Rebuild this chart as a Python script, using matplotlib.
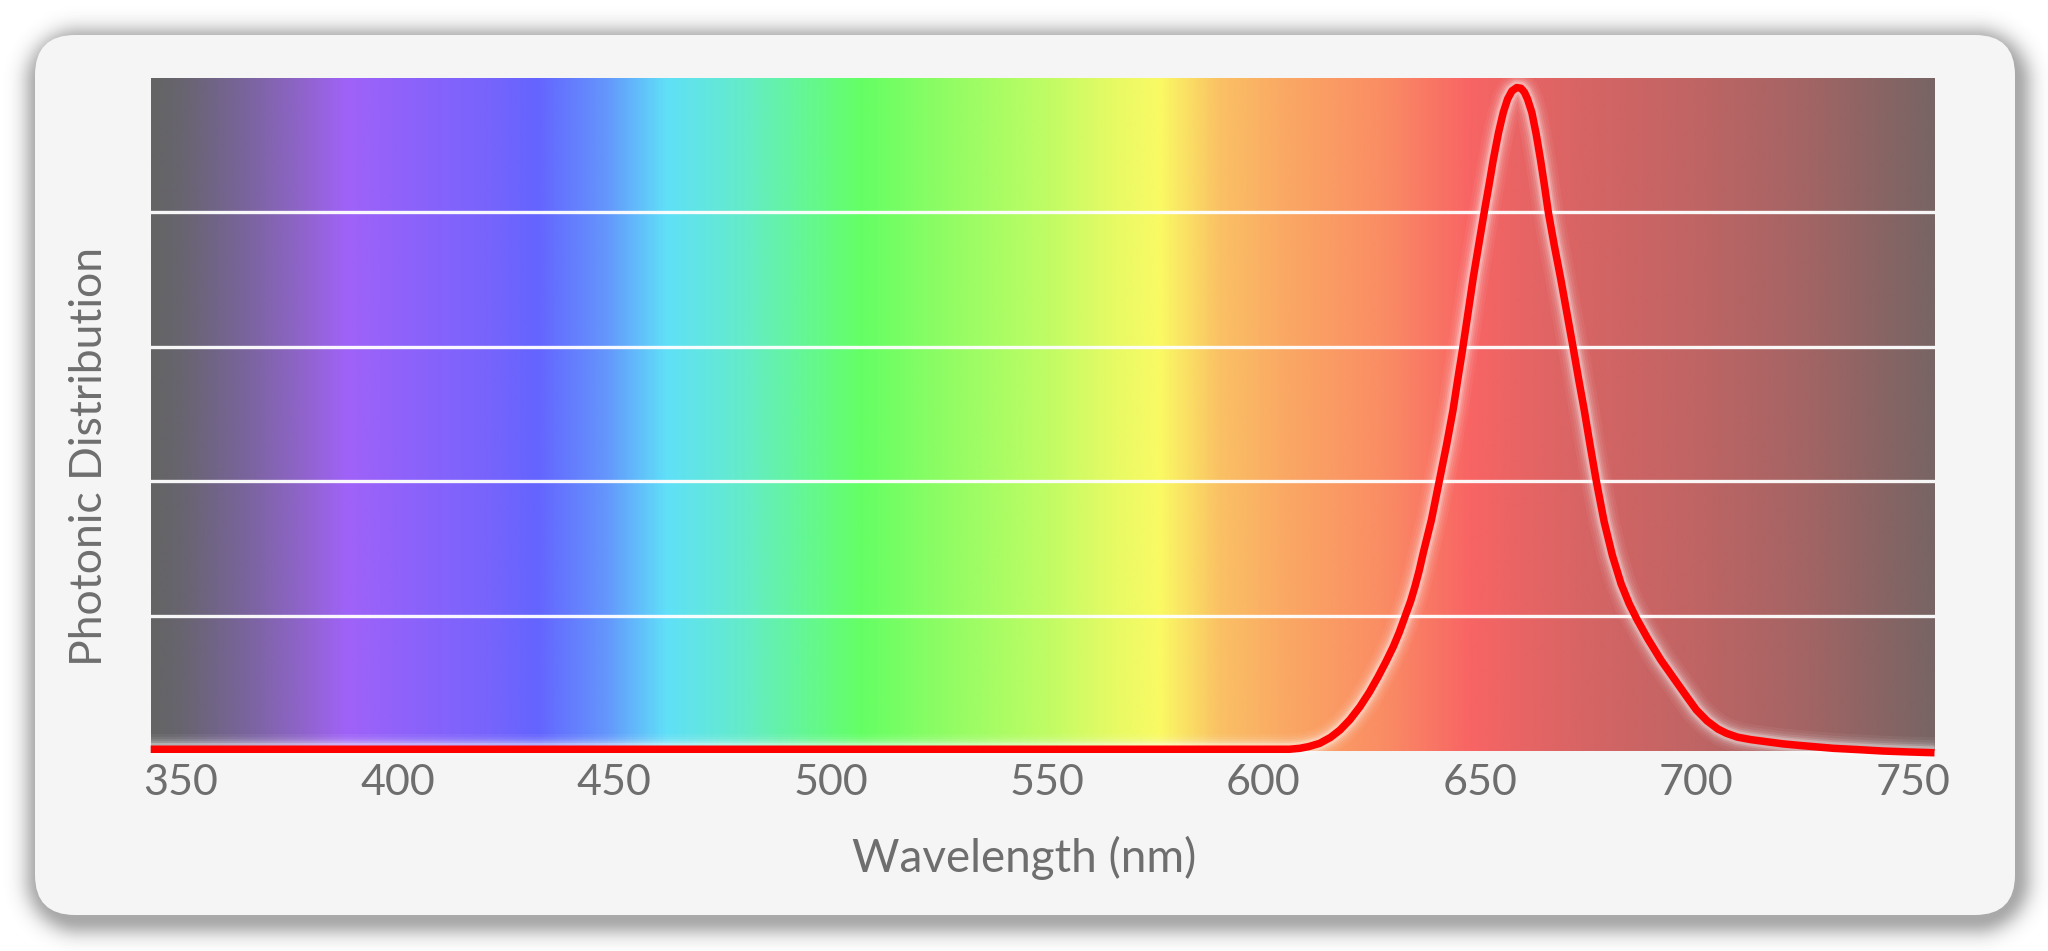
import numpy as np
import matplotlib
matplotlib.use("Agg")
import matplotlib.pyplot as plt
from matplotlib.patches import FancyBboxPatch
from matplotlib.colors import LinearSegmentedColormap, to_rgb
import matplotlib.patheffects as pe

# ---------------- data ----------------
wavelength_nm = [343.0, 400.0, 500.0, 600.0, 606.0, 608.4, 610.5, 613.0, 615.5, 617.7,
                 620.0, 622.3, 624.5, 626.5, 628.3, 630.0, 631.4, 632.7, 634.0, 635.0,
                 636.0, 636.9, 638.8, 640.6, 642.3, 643.8, 645.0, 646.0, 647.3, 648.5,
                 649.8, 651.0, 652.1, 653.1, 654.3, 655.4, 656.4, 657.4, 658.5, 659.5,
                 660.3, 661.0, 662.0, 663.0, 664.0, 664.9, 665.8, 667.2, 668.7, 670.1,
                 671.5, 672.8, 674.1, 675.5, 676.9, 678.7, 680.6, 682.6, 684.5, 686.2,
                 688.8, 691.8, 695.6, 697.8, 700.0, 702.5, 705.0, 707.0, 709.5, 712.5,
                 716.2, 720.0, 724.0, 728.0, 731.6, 737.0, 743.0, 749.0, 755.0]
intensity = [0.010, 0.010, 0.010, 0.010, 0.010, 0.017, 0.030, 0.054, 0.098, 0.153,
             0.230, 0.326, 0.435, 0.549, 0.660, 0.772, 0.880, 0.995, 1.110, 1.218,
             1.340, 1.466, 1.713, 2.000, 2.270, 2.530, 2.780, 2.980, 3.260, 3.520,
             3.770, 4.000, 4.200, 4.390, 4.590, 4.740, 4.840, 4.900, 4.925, 4.920,
             4.890, 4.840, 4.740, 4.580, 4.390, 4.200, 4.000, 3.750, 3.500, 3.250,
             3.000, 2.760, 2.530, 2.260, 2.000, 1.700, 1.450, 1.240, 1.090, 0.980,
             0.830, 0.673, 0.500, 0.400, 0.302, 0.220, 0.160, 0.128, 0.100, 0.082,
             0.066, 0.050, 0.038, 0.027, 0.017, 0.008, -0.003, -0.010, -0.016]

tick_values = [350, 400, 450, 500, 550, 600, 650, 700, 750]
tick_labels = ["350", "400", "450", "500", "550", "600", "650", "700", "750"]
grid_levels = [1, 2, 3, 4]

# background spectrum colour stops (wavelength nm, colour)
spectrum_nm = [343, 350, 365, 378, 388, 400, 420, 432, 448, 462, 480, 495, 507, 530,
               550, 566, 576, 590, 605, 628, 648, 660, 675, 700, 725, 742, 755]
spectrum_col = ["#646464", "#686470", "#7a649e", "#9064cc", "#a062f8", "#9062fa",
                "#7864fc", "#6464ff", "#6496fc", "#60e0f8", "#64ecc8", "#64f890",
                "#64ff64", "#98fc64", "#c0fc64", "#e8fa64", "#fafa64", "#fac064",
                "#faa864", "#fa8c64", "#f86464", "#e86464", "#d66464", "#c06464",
                "#a46464", "#8a6464", "#786464"]

x_label = "Wavelength (nm)"
y_label = "Photonic Distribution"

# ---------------- figure ----------------
W, H = 2048, 951
fig = plt.figure(figsize=(W / 100, H / 100), dpi=100)
fig.patch.set_facecolor("white")

bg = fig.add_axes([0, 0, 1, 1])
bg.set_xlim(0, W)
bg.set_ylim(H, 0)
bg.axis("off")

# card shadow (soft)
cx0, cy0, cx1, cy1, rad = 35, 35, 2015, 915, 40
yy, xx = np.mgrid[0:H, 0:W] + 0.5
dx, dy, inset = 3, 6, 2
ccx = (cx0 + cx1) / 2 + dx
ccy = (cy0 + cy1) / 2 + dy
hx = (cx1 - cx0) / 2 - inset
hy = (cy1 - cy0) / 2 - inset
qx = np.abs(xx - ccx) - (hx - rad)
qy = np.abs(yy - ccy) - (hy - rad)
d = np.hypot(np.maximum(qx, 0), np.maximum(qy, 0)) + np.minimum(np.maximum(qx, qy), 0) - rad
alpha = 0.45 * np.exp(-0.5 * (np.maximum(d, 0) / 12.0) ** 2)
shadow = np.zeros((H, W, 4))
shadow[..., :3] = 0.25
shadow[..., 3] = alpha
bg.imshow(shadow, extent=(0, W, H, 0), interpolation="bilinear", zorder=0)

card = FancyBboxPatch((cx0, cy0), cx1 - cx0, cy1 - cy0,
                      boxstyle="round,pad=0,rounding_size=%d" % rad,
                      fc="#f5f5f5", ec="none", zorder=1)
bg.add_patch(card)

# ---------------- main axes ----------------
left_px, right_px, top_px, bot_px = 150.7, 1934.5, 77.5, 750.6
ax = fig.add_axes([left_px / W, 1 - bot_px / H, (right_px - left_px) / W, (bot_px - top_px) / H])
xmin, xmax = 343.0, 755.0
ax.set_xlim(xmin, xmax)
ax.set_ylim(0, 5)

pos = [(v - xmin) / (xmax - xmin) for v in spectrum_nm]
cmap = LinearSegmentedColormap.from_list("spec", list(zip(pos, [to_rgb(c) for c in spectrum_col])), N=1024)
grad = np.linspace(0, 1, 1200).reshape(1, -1)
ax.imshow(grad, cmap=cmap, extent=(xmin, xmax, 0, 5), aspect="auto", zorder=0,
          interpolation="bilinear")

ax.set_yticks(grid_levels)
ax.set_yticklabels([])
ax.grid(axis="y", color="white", linewidth=2.4, alpha=0.95)
ax.tick_params(axis="y", length=0)
for s in ax.spines.values():
    s.set_visible(False)

ax.set_xticks(tick_values)
ax.set_xticklabels(tick_labels)
ax.tick_params(axis="x", length=0, pad=10, labelsize=31, labelcolor="#6e6e6e")
for t in ax.get_xticklabels():
    t.set_fontfamily(["Lato", "DejaVu Sans"])

glow = [pe.Stroke(linewidth=w, foreground="white", alpha=a)
        for w, a in [(22, 0.05), (18, 0.07), (14.5, 0.10), (11.5, 0.16), (9, 0.25)]]
ax.plot(wavelength_nm, intensity, color="#ff0000", linewidth=5.4, clip_on=False,
        solid_capstyle="butt", solid_joinstyle="round", zorder=3,
        path_effects=glow + [pe.Normal()])

fig.text(1024 / W, 1 - 871.7 / H, x_label, ha="center", va="baseline",
         fontsize=33, color="#6e6e6e", family=["Lato", "DejaVu Sans"])
fig.text(90 / W, 1 - 456.5 / H, y_label, ha="center", va="center", rotation=90,
         fontsize=32, color="#6e6e6e", family=["Lato", "DejaVu Sans"])

fig.savefig("out.png", dpi=100, facecolor="white")
